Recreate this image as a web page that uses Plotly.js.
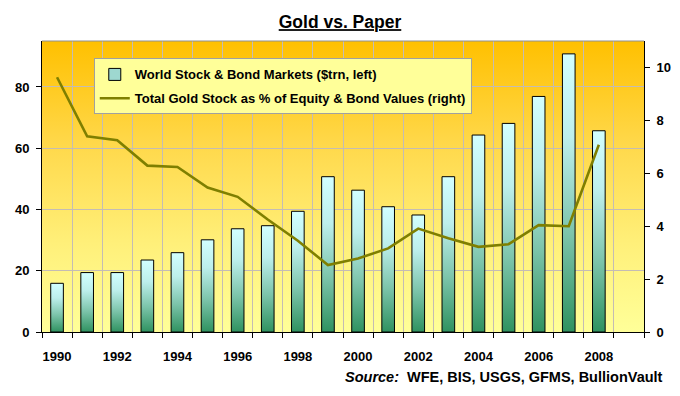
<!DOCTYPE html>
<html>
<head>
<meta charset="utf-8">
<script src="https://cdn.plot.ly/plotly-3.0.1.min.js"></script>
<style>html,body{margin:0;padding:0;background:#fff;}#chart{width:680px;height:396px;}</style>
</head>
<body>
<div id="chart"></div>
<script>
// Years (categories) and x tick labels
var years = [1990, 1991, 1992, 1993, 1994, 1995, 1996, 1997, 1998, 1999,
             2000, 2001, 2002, 2003, 2004, 2005, 2006, 2007, 2008];
var xTickVals = [1990, 1992, 1994, 1996, 1998, 2000, 2002, 2004, 2006, 2008];
var xTickText = ["1990", "1992", "1994", "1996", "1998", "2000", "2002", "2004", "2006", "2008"];
// World Stock & Bond Markets ($trn, left axis)
var marketValues = [15.9, 19.4, 19.4, 23.5, 25.9, 30.1, 33.7, 34.7, 39.4, 50.7,
                    46.3, 40.9, 38.2, 50.7, 64.3, 68.1, 76.9, 90.8, 65.7];
// Total Gold Stock as % of Equity & Bond Values (right axis)
var goldPct = [9.63, 7.40, 7.25, 6.29, 6.24, 5.46, 5.11, 4.25, 3.45, 2.53,
               2.78, 3.16, 3.91, 3.54, 3.22, 3.32, 4.04, 4.00, 7.08];
var leftTicks = [0, 20, 40, 60, 80];
var rightTicks = [0, 2, 4, 6, 8, 10];

var FONT = "Arial, 'Liberation Sans', sans-serif";

var traces = [
  {
    type: "bar",
    name: "World Stock & Bond Markets ($trn, left)",
    legendgroup: "a",
    x: years,
    y: marketValues,
    width: 0.42,
    marker: {color: "#9ED8D0", line: {color: "#000000", width: 1}},
    hoverinfo: "x+y"
  },
  {
    type: "scatter",
    mode: "lines",
    name: "Total Gold Stock as % of Equity & Bond Values (right)",
    legendgroup: "b",
    x: years,
    y: goldPct,
    yaxis: "y2",
    line: {color: "#7F7F00", width: 2.6},
    hoverinfo: "x+y"
  }
];

var layout = {
  width: 680,
  height: 396,
  margin: {l: 42, r: 36, t: 41, b: 64, pad: 0},
  paper_bgcolor: "#FFFFFF",
  plot_bgcolor: "#FFE680",
  font: {family: FONT, color: "#000000"},
  title: {
    text: "Gold vs. Paper",
    font: {family: FONT, size: 17.5, weight: "bold", color: "#000", lineposition: "under"},
    x: 0.5, xanchor: "center",
    xref: "container", yref: "container",
    y: 1 - 22 / 396, yanchor: "middle"
  },
  showlegend: true,
  legend: {
    x: 0.086, y: 0.94, xanchor: "left", yanchor: "top",
    bgcolor: "#FFFF99", bordercolor: "#A0A0A0", borderwidth: 1,
    font: {family: FONT, size: 13, weight: "bold", color: "#000"},
    traceorder: "grouped",
    itemwidth: 30,
    tracegroupgap: 4
  },
  xaxis: {
    type: "linear",
    range: [1989.5, 2009.5],
    tickmode: "array",
    tickvals: xTickVals,
    ticktext: xTickText,
    tickangle: 0,
    ticks: "outside",
    ticklen: 5,
    tickcolor: "rgba(0,0,0,0)",
    ticklabelstandoff: 7,
    showgrid: false,
    zeroline: false,
    showline: true,
    linecolor: "#000",
    linewidth: 1,
    tickfont: {family: FONT, size: 13, weight: "bold", color: "#000"},
    minor: {
      tickmode: "linear",
      tick0: 1989.5,
      dtick: 1,
      ticks: "outside",
      ticklen: 5,
      tickcolor: "#000",
      showgrid: true,
      gridcolor: "#C4BCB4",
      gridwidth: 1
    },
    fixedrange: true
  },
  yaxis: {
    range: [0, 95],
    tickmode: "array",
    tickvals: leftTicks,
    ticks: "outside",
    ticklen: 5,
    tickcolor: "#000",
    showgrid: true,
    gridcolor: "#C4BCB4",
    gridwidth: 1,
    zeroline: false,
    showline: true,
    linecolor: "#000",
    linewidth: 1,
    tickfont: {family: FONT, size: 13, weight: "bold", color: "#000"},
    ticklabelstandoff: 4,
    fixedrange: true
  },
  yaxis2: {
    overlaying: "y",
    side: "right",
    range: [0, 11],
    tickmode: "array",
    tickvals: rightTicks,
    ticks: "outside",
    ticklen: 5,
    tickcolor: "#000",
    showgrid: false,
    zeroline: false,
    showline: true,
    linecolor: "#000",
    linewidth: 1,
    tickfont: {family: FONT, size: 13, weight: "bold", color: "#000"},
    ticklabelstandoff: 4,
    fixedrange: true
  },
  shapes: [
    {type: "line", xref: "paper", yref: "paper", x0: 0, x1: 1, y0: 1, y1: 1,
     line: {color: "#909090", width: 1}}
  ],
  annotations: [
    {
      xref: "paper", yref: "paper",
      x: 1.035, y: -0.155, xanchor: "right", yanchor: "middle",
      showarrow: false,
      text: "<i>Source:</i>  WFE, BIS, USGS, GFMS, BullionVault",
      font: {family: FONT, size: 14.5, weight: "bold", color: "#000"}
    }
  ]
};

function addGradients() {
  var svgNS = "http://www.w3.org/2000/svg";
  var svg = document.querySelector("#chart svg.main-svg");
  if (!svg) return;
  var defs = svg.querySelector("defs");
  if (!defs) { defs = document.createElementNS(svgNS, "defs"); svg.insertBefore(defs, svg.firstChild); }
  function grad(id, stops) {
    if (document.getElementById(id)) return;
    var g = document.createElementNS(svgNS, "linearGradient");
    g.setAttribute("id", id);
    g.setAttribute("x1", "0"); g.setAttribute("y1", "0");
    g.setAttribute("x2", "0"); g.setAttribute("y2", "1");
    stops.forEach(function (s) {
      var st = document.createElementNS(svgNS, "stop");
      st.setAttribute("offset", s[0]);
      st.setAttribute("stop-color", s[1]);
      g.appendChild(st);
    });
    defs.appendChild(g);
  }
  grad("barGrad", [["0", "#D2FFFF"], ["0.3", "#BDEFEC"], ["0.65", "#7CC4AA"], ["1", "#2F9260"]]);
  grad("bgGrad", [["0", "#FFC000"], ["0.35", "#FFD84A"], ["0.7", "#FFF07A"], ["1", "#FFFF99"]]);
  var bg = svg.querySelector(".bglayer rect.bg");
  if (bg) bg.style.fill = "url(#bgGrad)";
  document.querySelectorAll("#chart .barlayer .point path").forEach(function (p) {
    p.style.fill = "url(#barGrad)";
  });
  document.querySelectorAll("#chart .legend .legendbar path").forEach(function (p) {
    p.style.fill = "url(#barGrad)";
  });
}

Plotly.newPlot("chart", traces, layout, {displayModeBar: false, staticPlot: true}).then(addGradients);
</script>
</body>
</html>
